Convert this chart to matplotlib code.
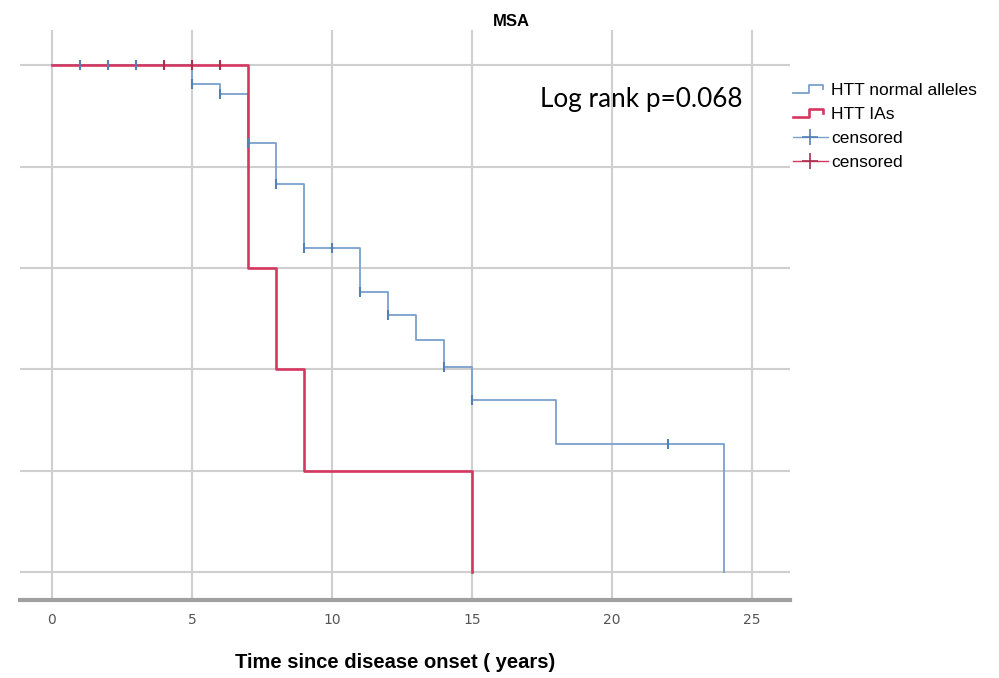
import numpy as np
import matplotlib
matplotlib.use("Agg")
import matplotlib.pyplot as plt
from matplotlib.lines import Line2D
from matplotlib.legend_handler import HandlerBase

# ---- data ----
normal_times = [0, 5, 6, 7, 8, 9, 11, 12, 13, 14, 15, 18, 24]
normal_surv = [1.0, 0.963, 0.943, 0.846, 0.767, 0.640, 0.553, 0.507, 0.458, 0.405, 0.340, 0.253, 0.0]
ias_times = [0, 7, 8, 9, 15]
ias_surv = [1.0, 0.6, 0.4, 0.2, 0.0]
normal_censored = [1, 2, 3, 5, 6, 7, 8, 9, 10, 11, 12, 14, 15, 22]
ias_censored = [4, 5, 6]
xticks = [0, 5, 10, 15, 20, 25]
yticks = [0.0, 0.2, 0.4, 0.6, 0.8, 1.0]

blue = '#7a9fcd'
blue_dark = '#5580b5'
red = '#d6375f'
red_dark = '#a8304f'
grid_c = '#cfcfcf'


def step_value(times, surv, t):
    idx = np.searchsorted(times, t, side='right') - 1
    return np.asarray(surv)[idx]


fig = plt.figure(figsize=(9.99, 6.78), dpi=100)
ax = fig.add_axes([20/999, 1-600/678, 770/999, 570/678])

ax.set_xlim(-1.14, 26.36)
ax.set_ylim(-0.055, 1.070)

ax.set_xticks(xticks)
ax.set_yticks(yticks)
ax.grid(True, color=grid_c, linewidth=1.5)
ax.set_axisbelow(True)
for s in ['left', 'right', 'top']:
    ax.spines[s].set_visible(False)
ax.spines['bottom'].set_color('#a0a0a0')
ax.spines['bottom'].set_linewidth(3)
ax.tick_params(axis='x', length=0, pad=9, labelsize=10, labelcolor='#555555')
ax.tick_params(axis='y', length=0, labelleft=False)
ax.set_xticklabels([str(t) for t in xticks], family='Liberation Sans Narrow')

ax.step(normal_times, normal_surv, where='post', color=blue, linewidth=1.3, zorder=3)
ax.step(ias_times, ias_surv, where='post', color=red, linewidth=1.9, zorder=4)

nc_y = step_value(normal_times, normal_surv, normal_censored)
ic_y = step_value(ias_times, ias_surv, ias_censored)
ax.plot(normal_censored, nc_y, linestyle='none', marker='|', markersize=7,
        markeredgewidth=1.5, color=blue_dark, zorder=5)
ax.plot(ias_censored, ic_y, linestyle='none', marker='|', markersize=7,
        markeredgewidth=1.5, color=red_dark, zorder=6)

ax.set_xlabel('Time since disease onset ( years)', fontsize=14.5, fontweight='bold',
              family='Liberation Sans')
ax.xaxis.set_label_coords((395-20)/770, -(662-600)/570, transform=ax.transAxes)
ax.xaxis.label.set_va('center')

fig.text(511/999, 1-22/678, 'MSA', ha='center', va='center', fontsize=12,
         fontweight='bold', family='Liberation Sans')
fig.text(641/999, 1-100/678, 'Log rank p=0.068', ha='center', va='center',
         fontsize=18.8, family='Lato')


class StepHandler(HandlerBase):
    def create_artists(self, legend, orig_handle, xdescent, ydescent, width,
                       height, fontsize, trans):
        w, h = width, height
        xs = [-xdescent, -xdescent + 0.45*w, -xdescent + 0.45*w, -xdescent + 0.85*w, -xdescent + 0.85*w]
        ys = [-ydescent + 0.2*h, -ydescent + 0.2*h, -ydescent + 0.8*h, -ydescent + 0.8*h, -ydescent + 0.5*h]
        ln = Line2D(xs, ys, color=orig_handle.get_color(), linewidth=orig_handle.get_linewidth(),
                    transform=trans)
        return [ln]


h1 = Line2D([], [], color=blue, linewidth=1.3)
h2 = Line2D([], [], color=red, linewidth=1.9)
h3 = Line2D([], [], color=blue, linewidth=1.0, marker='+', markersize=12,
            markeredgewidth=1.2, markeredgecolor=blue_dark)
h4 = Line2D([], [], color=red, linewidth=1.0, marker='+', markersize=12,
            markeredgewidth=1.2, markeredgecolor=red_dark)
fig.legend([h1, h2, h3, h4], ['HTT normal alleles', 'HTT IAs', 'censored', 'censored'],
           handler_map={h1: StepHandler(), h2: StepHandler()},
           loc='upper left', bbox_to_anchor=(793/999, 1-83/678), frameon=False,
           handlelength=2.0, handletextpad=0.2, labelspacing=0.5,
           borderaxespad=0, borderpad=0, prop={'family': 'Liberation Sans', 'size': 12.5})

fig.savefig('out.png', dpi=100)
